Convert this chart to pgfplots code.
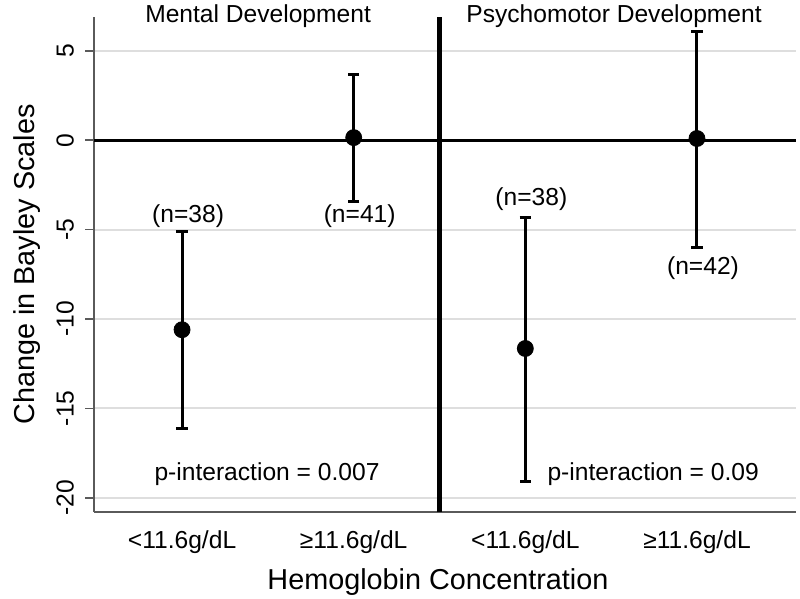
\documentclass[border=0pt]{standalone}
\usepackage{pgfplots}
\pgfplotsset{compat=1.18}
\usepackage{fontspec}
\setmainfont{Liberation Sans}
\definecolor{gridc}{RGB}{222,222,222}
\definecolor{axc}{RGB}{90,90,90}
\begin{document}
\begin{tikzpicture}
\begin{axis}[
  scale only axis,
  width=351pt, height=247.5pt,
  xmin=0.487, xmax=4.577,
  ymin=-20.8, ymax=6.9,
  axis lines*=left,
  axis line style={draw=axc, line width=0.8pt},
  clip=false,
  font=\fontsize{12.3}{14}\selectfont,
  xtick={1,2,3,4},
  xticklabels={<11.6g/dL,≥11.6g/dL,<11.6g/dL,≥11.6g/dL},
  x tick style={draw=none},
  xticklabel style={yshift=-1.5pt},
  ytick={5,0,-5,-10,-15,-20},
  yticklabels={5,0,-5,-10,-15,-20},
  y tick style={draw=axc, line width=0.8pt},
  tick align=outside,
  major tick length=4.5pt,
  yticklabel style={rotate=90, anchor=south, yshift=2pt},
  ymajorgrids,
  grid style={gridc, line width=1pt},
  xlabel={Hemoglobin Concentration},
  ylabel={Change in Bayley Scales},
  xlabel style={font=\fontsize{14.4}{17}\selectfont, at={(axis description cs:0.49,-0.1414)}, anchor=center},
  ylabel style={font=\fontsize{14.4}{17}\selectfont, at={(axis description cs:-0.0955,0.5)}, anchor=center, rotate=0},
]
\coordinate (sw) at (rel axis cs:0,0);
\coordinate (ne) at (rel axis cs:1,1);
% zero line and divider
\addplot[black, line width=1.5pt, forget plot] coordinates {(0.487,0) (4.577,0)};
\addplot[black, line width=2.3pt, forget plot] coordinates {(2.5,-20.8) (2.5,6.9)};
% estimates with confidence intervals
\addplot[only marks, mark=*, mark size=4pt, black,
  error bars/.cd, y dir=both, y explicit,
  error bar style={line width=1.5pt, black},
  error mark options={rotate=90, mark size=2.8pt, line width=1.5pt, black}]
  table[x=x, y=y, y error plus=ep, y error minus=em] {
  x y ep em
  1 -10.6 5.5 5.5
  2 0.15 3.55 3.55
  3 -11.65 7.35 7.45
  4 0.1 6.0 6.1
  };
\node at (axis cs:1.035,-4.25) {(n=38)};
\node at (axis cs:2.035,-4.25) {(n=41)};
\node at (axis cs:3.035,-3.3) {(n=38)};
\node at (axis cs:4.035,-7.15) {(n=42)};
\node at (axis cs:1.495,-18.66) {p-interaction = 0.007};
\node at (axis cs:3.745,-18.66) {p-interaction = 0.09};
\node at (axis cs:1.443,6.95) {Mental Development};
\node at (axis cs:3.517,6.95) {Psychomotor Development};
\end{axis}
\pgfresetboundingbox
\path (sw) ++(-47pt,-43pt) rectangle ([shift={(2pt,8.5pt)}]ne);
\end{tikzpicture}
\end{document}
